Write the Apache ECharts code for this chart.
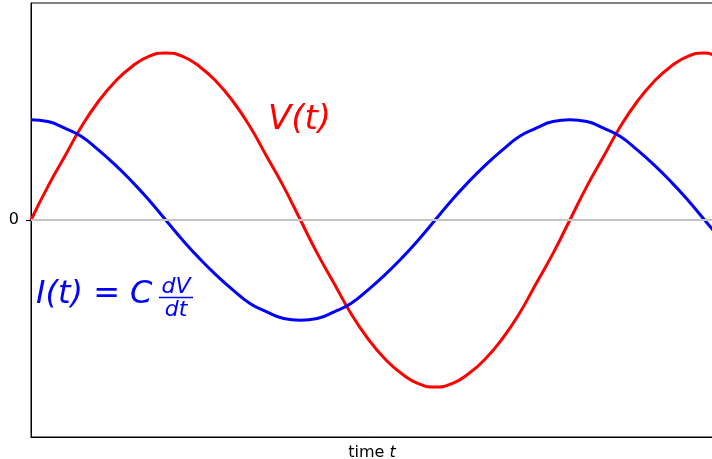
<!DOCTYPE html>
<html>
<head>
<meta charset="utf-8">
<script src="https://cdn.jsdelivr.net/npm/echarts@6/dist/echarts.min.js"></script>
<style>
  html, body { margin: 0; padding: 0; background: #fff; }
  #chart { width: 712px; height: 459px; }
</style>
</head>
<body>
<div id="chart"></div>
<script>
// time samples (1 unit = 1/32 of a period)
const tValues = [0, 1, 2, 3, 4, 5, 6, 7, 8, 9, 10, 11, 12, 13, 14, 15, 16, 17, 18, 19, 20,
  21, 22, 23, 24, 25, 26, 27, 28, 29, 30, 31, 32, 33, 34, 35, 36, 37, 38, 39, 40, 40.5]
// V(t)
const voltage = [0, 0.2, 0.38, 0.56, 0.71, 0.83, 0.92, 0.98, 1, 0.98, 0.92, 0.83, 0.71, 0.56, 0.38, 0.2,
  0, -0.2, -0.38, -0.56, -0.71, -0.83, -0.92, -0.98, -1, -0.98, -0.92, -0.83, -0.71, -0.56, -0.38, -0.2,
  0, 0.2, 0.38, 0.56, 0.71, 0.83, 0.92, 0.98, 1, 0.99]
// I(t)
const current = [0.6, 0.59, 0.55, 0.5, 0.42, 0.33, 0.23, 0.12, 0, -0.12, -0.23, -0.33, -0.42, -0.5, -0.55, -0.59,
  -0.6, -0.59, -0.55, -0.5, -0.42, -0.33, -0.23, -0.12, 0, 0.12, 0.23, 0.33, 0.42, 0.5, 0.55, 0.59,
  0.6, 0.59, 0.55, 0.5, 0.42, 0.33, 0.23, 0.12, 0, -0.06]
const yTicks = [0]

const font = 'DejaVu Sans'
const chart = echarts.init(document.getElementById('chart'))

const pairs = (vals) => tValues.map((t, i) => [t, vals[i]])

const option = {
  animation: false,
  grid: {
    left: 31, top: 3, right: -1, bottom: 22,
    outerBoundsMode: 'none', containLabel: false,
    show: true, borderColor: '#000', borderWidth: 1
  },
  xAxis: {
    type: 'value', min: 0, max: 40.5,
    axisLine: { show: true, onZero: false, lineStyle: { color: '#000', width: 1 } },
    axisTick: { show: false },
    axisLabel: { show: false },
    splitLine: { show: false },
    name: '{n|time }{i|t}',
    nameLocation: 'middle',
    nameGap: 8,
    nameTextStyle: {
      rich: {
        n: { fontFamily: font, fontSize: 16, color: '#000' },
        i: { fontFamily: font, fontSize: 16, fontStyle: 'italic', color: '#000' }
      }
    }
  },
  yAxis: {
    type: 'value', min: -1.3, max: 1.3,
    axisLine: { show: true, lineStyle: { color: '#000', width: 1 } },
    axisTick: { show: true, length: 5, customValues: yTicks, lineStyle: { color: '#000' } },
    axisLabel: { customValues: yTicks, fontFamily: font, fontSize: 16, color: '#000', margin: 12 },
    splitLine: { show: false }
  },
  series: [
    {
      type: 'line', data: [], silent: true,
      markLine: {
        silent: true, symbol: 'none', label: { show: false },
        lineStyle: { color: '#c4c4c4', width: 2, type: 'solid' },
        data: [{ yAxis: 0 }]
      }
    },
    {
      name: 'V(t)', type: 'line', data: pairs(voltage), smooth: true,
      showSymbol: false, lineStyle: { color: '#ff0000', width: 3 }, clip: true
    },
    {
      name: 'I(t)', type: 'line', data: pairs(current), smooth: true,
      showSymbol: false, lineStyle: { color: '#0000ff', width: 3 }, clip: true
    }
  ],
  graphic: [
    {
      type: 'text', left: 268, top: 103,
      style: { text: 'V(t)', fontFamily: font, fontStyle: 'italic', fontSize: 34, fill: '#ff0000' }
    },
    {
      type: 'text', left: 36, top: 279,
      style: {
        text: '{i|I(t)}{n| = }{i|C}',
        rich: {
          i: { fontFamily: font, fontStyle: 'italic', fontSize: 32, fill: '#0000ff' },
          n: { fontFamily: font, fontSize: 32, fill: '#0000ff' }
        }
      }
    },
    {
      type: 'text', x: 176, y: 287,
      style: { text: 'dV', fontFamily: font, fontStyle: 'italic', fontSize: 22, fill: '#0000ff', align: 'center', verticalAlign: 'middle' }
    },
    {
      type: 'line', shape: { x1: 159, y1: 297.5, x2: 193, y2: 297.5 },
      style: { stroke: '#0000ff', lineWidth: 1.5 }
    },
    {
      type: 'text', x: 176, y: 310,
      style: { text: 'dt', fontFamily: font, fontStyle: 'italic', fontSize: 22, fill: '#0000ff', align: 'center', verticalAlign: 'middle' }
    }
  ]
}

chart.setOption(option)
</script>
</body>
</html>
